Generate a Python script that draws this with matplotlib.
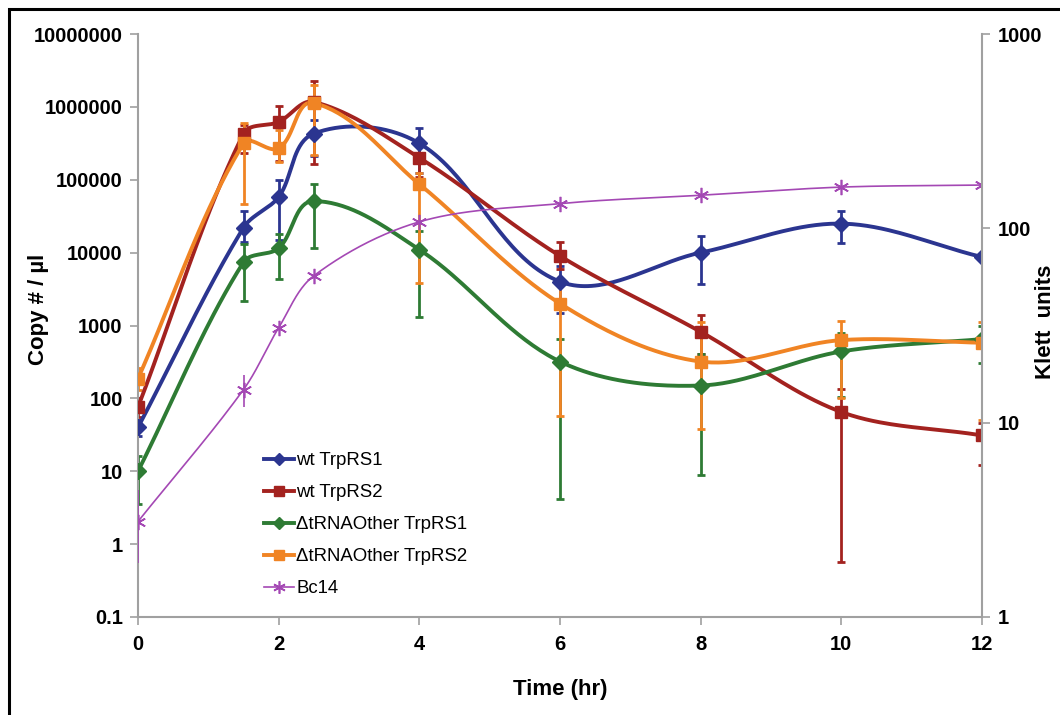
import numpy as np
import matplotlib
matplotlib.use("Agg")
import matplotlib.pyplot as plt
from matplotlib.patches import Rectangle
from matplotlib.ticker import FixedLocator, FixedFormatter, NullLocator

plt.rcParams['font.family'] = ['Liberation Sans', 'DejaVu Sans']

# Data
time = [0, 1.5, 2, 2.5, 4, 6, 8, 10, 12]

wt1 = [40, 22000, 58000, 430000, 316000, 4000, 10000, 25000, 8700]
wt1_lo = [30, 14000, 15000, 210000, 125000, 1500, 3700, 13500, 8000]
wt1_hi = [50, 37000, 100000, 660000, 510000, 6600, 17000, 37000, 9400]

wt2 = [76, 430000, 620000, 1170000, 200000, 9000, 820, 65, 31]
wt2_lo = [55, 230000, 180000, 165000, 110000, 6000, 400, 0.57, 12]
wt2_hi = [100, 560000, 1030000, 2300000, 300000, 14000, 1400, 135, 46]

dt1 = [10, 7400, 11500, 51000, 11000, 320, 150, 440, 650]
dt1_lo = [3.5, 2200, 4300, 11500, 1300, 4.1, 9, 105, 310]
dt1_hi = [16, 13000, 18000, 87000, 20000, 650, 400, 800, 1000]

dt2 = [187, 316000, 270000, 1130000, 87000, 2000, 320, 630, 580]
dt2_lo = [130, 47000, 175000, 220000, 3800, 58, 38, 100, 51]
dt2_hi = [260, 600000, 480000, 2000000, 125000, 4000, 1100, 1150, 1100]

bc14 = [3.1, 14.8, 30.8, 57, 108, 134, 148, 163, 167]
bc14_lo = [1.9, 12, 30.8, 57, 108, 134, 148, 163, 167]
bc14_hi = [4.5, 17.6, 30.8, 57, 108, 134, 148, 163, 167]

left_ticks = [0.1, 1, 10, 100, 1000, 10000, 100000, 1000000, 10000000]
right_ticks = [1, 10, 100, 1000]
x_ticks = [0, 2, 4, 6, 8, 10, 12]


def smooth(ax, xs, ys, n=40, k=0.33):
    # bezier smoothing in display space, handle length tied to segment length
    pts = ax.transData.transform(np.column_stack([xs, ys]))
    out = [pts[0]]
    m = len(pts)
    for i in range(m - 1):
        p0 = pts[i - 1] if i > 0 else pts[i]
        p1 = pts[i]
        p2 = pts[i + 1]
        p3 = pts[i + 2] if i + 2 < m else pts[i + 1]
        seg_len = np.hypot(*(p2 - p1))
        d1 = p2 - p0
        d2 = p3 - p1
        c1 = p1 + d1 / np.hypot(*d1) * seg_len * k
        c2 = p2 - d2 / np.hypot(*d2) * seg_len * k
        t = np.linspace(0, 1, n)[1:, None]
        seg = ((1 - t) ** 3) * p1 + 3 * ((1 - t) ** 2) * t * c1 + 3 * (1 - t) * t ** 2 * c2 + t ** 3 * p2
        out.extend(seg)
    out = np.array(out)
    d = ax.transData.inverted().transform(out)
    return d[:, 0], d[:, 1]


fig = plt.figure(figsize=(10.6, 7.15), dpi=100)
ax = fig.add_axes([138 / 1060, 1 - 617 / 715, 844 / 1060, 583 / 715])
ax2 = ax.twinx()

ax.set_yscale('log')
ax.set_ylim(0.1, 1e7)
ax.set_xlim(0, 12)
ax2.set_yscale('log')
ax2.set_ylim(1, 1000)

series = [
    ("wt TrpRS1", wt1, wt1_lo, wt1_hi, '#2b3590', 'D', 8),
    ("wt TrpRS2", wt2, wt2_lo, wt2_hi, '#a3221f', 's', 8),
    ("\u0394tRNAOther TrpRS1", dt1, dt1_lo, dt1_hi, '#2e7b34', 'D', 8),
    ("\u0394tRNAOther TrpRS2", dt2, dt2_lo, dt2_hi, '#f08424', 's', 8),
]

handles = []
for name, y, lo, hi, col, mk, ms in series:
    y = np.array(y, float)
    err = [y - np.array(lo, float), np.array(hi, float) - y]
    ax.errorbar(time, y, yerr=err, fmt='none', ecolor=col, elinewidth=2,
                capsize=3, capthick=2, zorder=2)
    sx, sy = smooth(ax, time, y)
    ax.plot(sx, sy, color=col, lw=2.8, zorder=3)
    ax.plot(time, y, linestyle='none', marker=mk, color=col, markersize=ms, zorder=4)
    h, = ax.plot([], [], color=col, lw=2.8, marker=mk, markersize=6.5)
    handles.append((h, name))

bc = np.array(bc14, float)
bc_err = [bc - np.array(bc14_lo, float), np.array(bc14_hi, float) - bc]
pc = '#a448b4'
ax2.errorbar(time, bc, yerr=bc_err, fmt='none', ecolor=pc, elinewidth=1.2, capsize=0)
sx, sy = smooth(ax2, time, bc)
ax2.plot(sx, sy, color=pc, lw=1.2)
ax2.plot(time, bc, linestyle='none', marker=(6, 2, 0), color=pc, markersize=11, mew=1.2)
h, = ax2.plot([], [], color=pc, lw=1.2, marker=(6, 2, 0), markersize=9, mew=1.2)
handles.append((h, "Bc14"))

# axes styling
grey = '#a0a0a0'
for a in (ax, ax2):
    a.spines['top'].set_visible(False)
    for s in ('left', 'right', 'bottom'):
        a.spines[s].set_color(grey)
        a.spines[s].set_linewidth(1.5)
ax.spines['right'].set_visible(False)
ax2.spines['left'].set_visible(False)
ax2.spines['bottom'].set_visible(False)

ax.yaxis.set_major_locator(FixedLocator(left_ticks))
ax.yaxis.set_major_formatter(FixedFormatter([f"{v:g}" if v < 1 else str(int(v)) for v in left_ticks]))
ax.yaxis.set_minor_locator(NullLocator())
ax2.yaxis.set_major_locator(FixedLocator(right_ticks))
ax2.yaxis.set_major_formatter(FixedFormatter([str(v) for v in right_ticks]))
ax2.yaxis.set_minor_locator(NullLocator())
ax.set_xticks(x_ticks)

for a in (ax, ax2):
    a.tick_params(axis='both', direction='out', length=6, width=1.2, color=grey,
                  labelsize=14.5, pad=5)
    for lab in a.get_yticklabels() + a.get_xticklabels():
        lab.set_fontweight('bold')
ax.tick_params(axis='x', pad=7)

ax.set_xlabel("Time (hr)", fontsize=16, fontweight='bold', labelpad=18)
ax.set_ylabel("Copy # / \u00b5l", fontsize=16, fontweight='bold')
ax.yaxis.set_label_coords(-0.105, 0.528)
ax2.set_ylabel("Klett  units", fontsize=16, fontweight='bold', rotation=90)
ax2.yaxis.set_label_coords(1.063, 0.506)

ax2.legend([h for h, _ in handles], [n for _, n in handles], loc='upper left',
           bbox_to_anchor=(0.141, 0.295), frameon=False, fontsize=13.4,
           handlelength=1.6, handletextpad=0.1, labelspacing=0.8, borderaxespad=0)

# outer black frame
fig.patches.append(Rectangle((9 / 1060, -0.05), 1.2, 1 - 9 / 715 + 0.05, transform=fig.transFigure,
                             fill=False, edgecolor='black', lw=2.2))

fig.savefig("out.png", dpi=100)
